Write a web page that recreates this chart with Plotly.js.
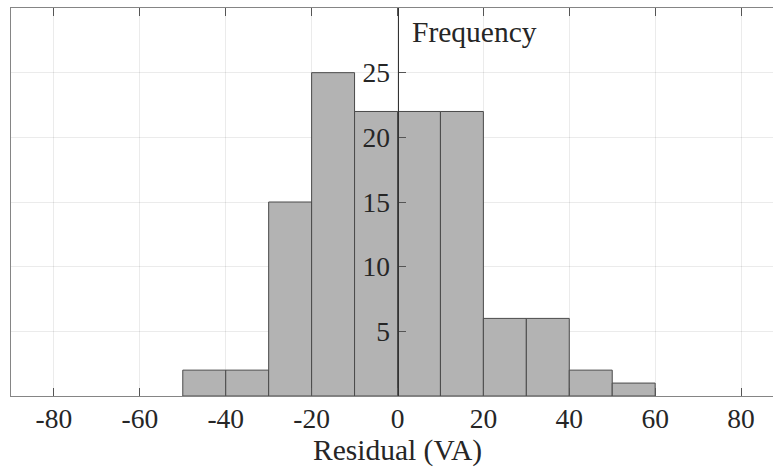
<!DOCTYPE html>
<html>
<head>
<meta charset="utf-8">
<script src="https://cdn.plot.ly/plotly-3.0.1.min.js"></script>
<style>
html,body{margin:0;padding:0;overflow:hidden;background:#fff;}
#chart{width:784px;height:470px;}
</style>
</head>
<body>
<div id="chart"></div>
<script>
// Histogram of residuals (bin width 10)
const binLeftEdges = [-50, -40, -30, -20, -10, 0, 10, 20, 30, 40, 50];
const binWidth = 10;
const counts = [2, 2, 15, 25, 22, 22, 22, 6, 6, 2, 1];
const xTickVals = [-80, -60, -40, -20, 0, 20, 40, 60, 80];
const yTickVals = [5, 10, 15, 20, 25];
const xLabel = 'Residual (VA)';
const yLabel = 'Frequency';

const serif = '"Liberation Serif", "Times New Roman", serif';
const textColor = '#262626';
const gridColor = 'rgba(0,0,0,0.08)';
const frameColor = '#858585';

const trace = {
  type: 'bar',
  x: binLeftEdges,
  y: counts,
  width: binLeftEdges.map(() => binWidth),
  offset: 0,
  marker: { color: '#b3b3b3', line: { color: '#4a4a4a', width: 1 } },
  hoverinfo: 'x+y'
};

// invisible trace to carry the frame axis
const frameTrace = { type: 'scatter', x: [0], y: [0], yaxis: 'y2', mode: 'markers', marker: { opacity: 0 }, hoverinfo: 'skip', showlegend: false };

const layout = {
  width: 784, height: 470,
  margin: { l: 11, r: 0, t: 8, b: 74 },
  paper_bgcolor: '#ffffff', plot_bgcolor: '#ffffff',
  showlegend: false,
  bargap: 0,
  font: { family: serif, color: textColor, size: 27 },
  xaxis: {
    range: [-90, 90],
    tickvals: xTickVals,
    ticktext: xTickVals.map(String),
    ticks: 'inside', ticklen: 8, tickcolor: '#555', tickwidth: 1,
    showline: true, linecolor: frameColor, linewidth: 1, mirror: 'ticks',
    showgrid: true, gridcolor: gridColor, gridwidth: 1,
    zeroline: false,
    layer: 'above traces',
    tickfont: { family: serif, size: 27.5, color: textColor },
    ticklabelstandoff: -2,
    title: { text: xLabel, font: { family: serif, size: 29.5, color: textColor }, standoff: 2 }
  },
  yaxis: {
    range: [0, 30],
    tickvals: yTickVals,
    ticks: 'inside', ticklen: 7, tickcolor: '#555', tickwidth: 1,
    showline: true, linecolor: '#333', linewidth: 1,
    anchor: 'free', position: 0.5,
    showgrid: true, gridcolor: gridColor, gridwidth: 1,
    zeroline: false,
    layer: 'above traces',
    tickfont: { family: serif, size: 27.5, color: textColor },
    ticklabelstandoff: 2
  },
  yaxis2: {
    overlaying: 'y', side: 'left',
    range: [0, 30],
    showline: true, linecolor: frameColor, linewidth: 1.5, mirror: true,
    showticklabels: false, ticks: '', showgrid: false, zeroline: false,
    layer: 'above traces'
  },
  annotations: [{
    text: yLabel,
    xref: 'x', yref: 'paper',
    x: 0, y: 1, xanchor: 'left', yanchor: 'top',
    xshift: 12, yshift: -6,
    showarrow: false,
    font: { family: serif, size: 29.5, color: textColor }
  }]
};

Plotly.newPlot('chart', [trace, frameTrace], layout, { displayModeBar: false, staticPlot: true });
</script>
</body>
</html>
